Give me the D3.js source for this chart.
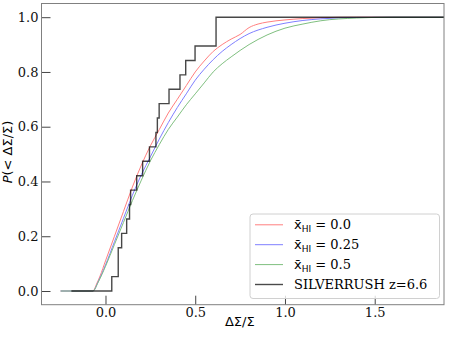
<!DOCTYPE html>
<html>
<head>
<meta charset="utf-8">
<script src="https://cdn.jsdelivr.net/npm/d3@7"></script>
<style>
    body { margin: 0; background: white; }
    svg { display: block; }
</style>
</head>
<body>
<script>
    // cumulative curves (x = dSigma/Sigma, y = P)
    var redX   = [-0.25, -0.07, -0.05, -0.03, 0.0, 0.05, 0.1, 0.15, 0.2, 0.25, 0.3, 0.35, 0.4, 0.45, 0.5, 0.55, 0.6, 0.65, 0.7, 0.75, 0.8, 0.85, 0.9, 1.0, 1.1, 1.2, 1.4, 1.9];
    var redY   = [0, 0, 0.025, 0.055, 0.11, 0.2, 0.29, 0.38, 0.46, 0.53, 0.59, 0.65, 0.70, 0.75, 0.80, 0.84, 0.875, 0.9, 0.92, 0.937, 0.962, 0.975, 0.982, 0.99, 0.995, 0.998, 1.0, 1.0];

    var blueX  = [-0.25, -0.07, -0.04, 0.0, 0.05, 0.1, 0.15, 0.2, 0.25, 0.3, 0.35, 0.4, 0.45, 0.5, 0.55, 0.6, 0.65, 0.7, 0.8, 0.9, 1.0, 1.1, 1.2, 1.4, 1.6, 1.9];
    var blueY  = [0, 0, 0.035, 0.095, 0.18, 0.265, 0.35, 0.425, 0.49, 0.555, 0.615, 0.67, 0.72, 0.77, 0.81, 0.845, 0.875, 0.9, 0.94, 0.963, 0.978, 0.988, 0.994, 0.999, 1.0, 1.0];

    var greenX = [-0.25, -0.07, -0.04, 0.0, 0.05, 0.1, 0.15, 0.2, 0.25, 0.3, 0.35, 0.4, 0.45, 0.5, 0.55, 0.6, 0.65, 0.7, 0.8, 0.9, 1.0, 1.1, 1.2, 1.4, 1.6, 1.9];
    var greenY = [0, 0, 0.033, 0.09, 0.17, 0.25, 0.33, 0.405, 0.475, 0.535, 0.59, 0.635, 0.68, 0.72, 0.76, 0.8, 0.83, 0.855, 0.9, 0.935, 0.96, 0.975, 0.987, 0.997, 1.0, 1.0];

    // SILVERRUSH z=6.6 sample (19 objects), sorted
    var obsVals = [0.035, 0.071, 0.071, 0.09, 0.118, 0.134, 0.140, 0.174, 0.207, 0.245, 0.281, 0.289, 0.299, 0.354, 0.415, 0.447, 0.499, 0.616, 0.616];
    var obsStart = -0.19;
    var obsEnd = 1.95;

    var xTicks = [0.0, 0.5, 1.0, 1.5];
    var yTicks = [0.0, 0.2, 0.4, 0.6, 0.8, 1.0];

    var labels = ["0.0", "0.25", "0.5"];

    window.onload = function() {
        var W = 450, H = 338;
        var left = 41.5, right = 444, top = 3.5, bottom = 304.7;

        var svg = d3.select("body").append("svg")
            .attr("width", W)
            .attr("height", H);

        var x = d3.scaleLinear().domain([-0.3565, 1.886]).range([left, right]);
        var y = d3.scaleLinear().domain([-0.05, 1.05]).range([bottom, top]);

        svg.append("clipPath").attr("id", "plotclip")
            .append("rect")
            .attr("x", left).attr("y", top)
            .attr("width", right - left).attr("height", bottom - top);

        var line = d3.line()
            .x(function(d) { return x(d[0]); })
            .y(function(d) { return y(d[1]); })
            .curve(d3.curveMonotoneX);

        var series = [
            {xs: redX, ys: redY, color: "#ff7f7f"},
            {xs: blueX, ys: blueY, color: "#7f7fff"},
            {xs: greenX, ys: greenY, color: "#7fbf7f"}
        ];

        var g = svg.append("g").attr("clip-path", "url(#plotclip)");

        for (var s = 0; s < series.length; s++) {
            var pts = [];
            for (var i = 0; i < series[s].xs.length; i++) {
                pts.push([series[s].xs[i], series[s].ys[i]]);
            }
            g.append("path")
                .datum(pts)
                .attr("fill", "none")
                .attr("stroke", series[s].color)
                .attr("stroke-width", 1)
                .attr("d", line);
        }

        // step cdf of the observed sample
        var steps = [[obsStart, 0]];
        for (var i = 0; i < obsVals.length; i++) {
            steps.push([obsVals[i], (i + 1) / obsVals.length]);
        }
        steps.push([obsEnd, 1]);

        g.append("path")
            .datum(steps)
            .attr("fill", "none")
            .attr("stroke", "black")
            .attr("stroke-opacity", 0.72)
            .attr("stroke-width", 1.4)
            .attr("d", d3.line()
                .x(function(d) { return x(d[0]); })
                .y(function(d) { return y(d[1]); })
                .curve(d3.curveStepAfter));

        // axes, ticks pointing inwards
        var xAxis = svg.append("g")
            .attr("transform", "translate(0," + bottom + ")")
            .call(d3.axisBottom(x).tickValues(xTicks).tickFormat(d3.format(".1f")).tickSizeInner(-9).tickSizeOuter(0).tickPadding(4));
        var yAxis = svg.append("g")
            .attr("transform", "translate(" + left + ",0)")
            .call(d3.axisLeft(y).tickValues(yTicks).tickFormat(d3.format(".1f")).tickSizeInner(-9).tickSizeOuter(0).tickPadding(3));

        svg.selectAll(".domain").remove();
        svg.selectAll(".tick line").attr("stroke", "#444").attr("stroke-width", 1);
        svg.selectAll(".tick text")
            .attr("fill", "#111")
            .style("font-family", "DejaVu Serif")
            .style("font-size", "13px");
        xAxis.selectAll(".tick text").attr("y", 3).attr("dy", "0.71em");

        svg.append("rect")
            .attr("x", left).attr("y", top)
            .attr("width", right - left).attr("height", bottom - top)
            .attr("fill", "none")
            .attr("stroke", "#808080")
            .attr("stroke-width", 1);

        // axis labels
        svg.append("text")
            .attr("x", (left + right) / 2 - 3)
            .attr("y", 326)
            .attr("text-anchor", "middle")
            .style("font-family", "DejaVu Sans")
            .style("font-size", "13px")
            .text("ΔΣ/Σ");

        var yl = svg.append("text")
            .attr("transform", "translate(12," + 152 + ") rotate(-90)")
            .attr("text-anchor", "middle")
            .style("font-family", "DejaVu Sans")
            .style("font-size", "13px");
        yl.append("tspan").style("font-style", "italic").text("P");
        yl.append("tspan").text("(< ΔΣ/Σ)");

        // legend
        var lg = svg.append("g");
        lg.append("rect")
            .attr("x", 250).attr("y", 214)
            .attr("width", 189.5).attr("height", 84.5)
            .attr("rx", 3)
            .attr("fill", "white")
            .attr("fill-opacity", 0.8)
            .attr("stroke", "#d0d0d0")
            .attr("stroke-width", 1);

        var legColors = ["#ff7f7f", "#7f7fff", "#7fbf7f", "#4a4a4a"];
        for (var j = 0; j < 4; j++) {
            var ry = 224.8 + j * 19.9;
            lg.append("line")
                .attr("x1", 255).attr("x2", 283)
                .attr("y1", ry).attr("y2", ry)
                .attr("stroke", legColors[j])
                .attr("stroke-width", j == 3 ? 1.4 : 1);

            var t = lg.append("text")
                .attr("x", 294)
                .attr("y", ry + 4.5)
                .style("font-family", "DejaVu Serif")
                .style("font-size", "13px");
            if (j < 3) {
                t.append("tspan").style("font-family", "DejaVu Sans").text("x\u0304");
                t.append("tspan").style("font-family", "DejaVu Sans").style("font-size", "9px").attr("dy", 2.5).text("HI");
                t.append("tspan").attr("dy", -2.5).text(" = " + labels[j]);
            } else {
                t.text("SILVERRUSH z=6.6");
            }
        }
    };
</script>
</body>
</html>
